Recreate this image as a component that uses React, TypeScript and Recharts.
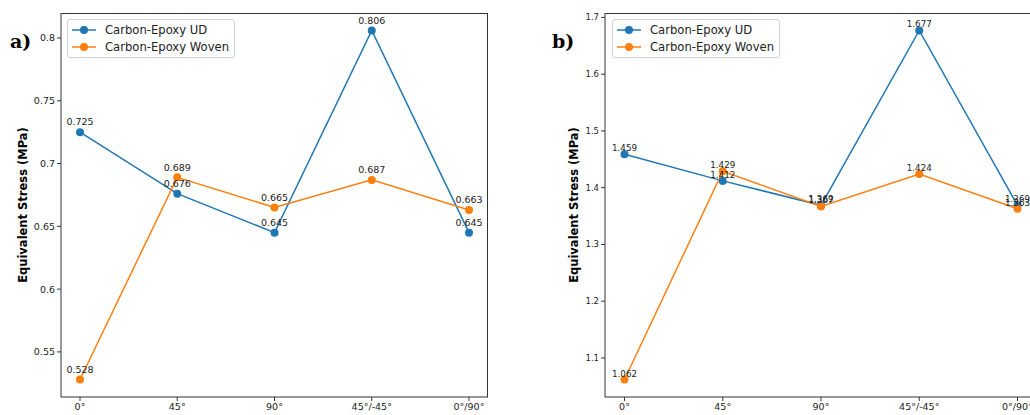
import { Line, LineChart, LabelList, XAxis, YAxis } from "recharts"

const angles = ["0°", "45°", "90°", "45°/-45°", "0°/90°"]

const udA = [0.725, 0.676, 0.645, 0.806, 0.645]
const wovenA = [0.528, 0.689, 0.665, 0.687, 0.663]
const ticksA = [0.55, 0.6, 0.65, 0.7, 0.75, 0.8]

const udB = [1.459, 1.412, 1.369, 1.677, 1.369]
const wovenB = [1.062, 1.429, 1.367, 1.424, 1.363]
const ticksB = [1.1, 1.2, 1.3, 1.4, 1.5, 1.6, 1.7]

const BLUE = "#1f77b4"
const ORANGE = "#ff7f0e"
const AXIS = "#333"

type PanelProps = {
  ud: number[]
  woven: number[]
  ticks: number[]
  domain: [number, number]
  left: number
  marginLeft: number
  marginRight: number
  pad: number
  tickFont: number
  labelFont: number
  labelGap: number
  yLabelX: number
}

function Panel(p: PanelProps) {
  const data = angles.map((name, i) => ({ name, ud: p.ud[i], woven: p.woven[i] }))
  const plotLeft = p.marginLeft + 40
  const plotWidth = 500 - plotLeft - p.marginRight

  const valueLabel = (props: any) => (
    <text
      x={props.x}
      y={props.y - p.labelGap + p.labelFont * 0.35}
      textAnchor="middle"
      fontSize={p.labelFont}
      fill="#222"
    >
      {props.value}
    </text>
  )

  return (
    <div style={{ position: "absolute", left: p.left, top: 0, width: 500, height: 415 }}>
      <LineChart
        width={500}
        height={415}
        data={data}
        margin={{ top: 13, right: p.marginRight, bottom: 0, left: p.marginLeft }}
      >
        <XAxis
          dataKey="name"
          interval={0}
          height={18}
          padding={{ left: p.pad, right: p.pad }}
          tickSize={4}
          tick={{ fontSize: 9.5, fill: "#222" }}
          axisLine={{ stroke: AXIS }}
          tickLine={{ stroke: AXIS }}
        />
        <YAxis
          type="number"
          domain={p.domain}
          allowDataOverflow
          ticks={p.ticks}
          width={40}
          tickSize={4}
          tick={{ fontSize: p.tickFont, fill: "#222" }}
          axisLine={{ stroke: AXIS }}
          tickLine={{ stroke: AXIS }}
          label={{
            content: (lp: any) => {
              const vb = lp.viewBox
              const cy = vb.y + vb.height / 2
              const x = p.yLabelX + 9
              return (
                <text
                  x={x}
                  y={cy}
                  transform={`rotate(-90 ${x} ${cy})`}
                  textAnchor="middle"
                  fontSize={11.5}
                  fontWeight="bold"
                  fill="#000"
                >
                  Equivalent Stress (MPa)
                </text>
              )
            },
          }}
        />
        <Line
          type="linear"
          dataKey="ud"
          stroke={BLUE}
          strokeWidth={1.5}
          dot={{ r: 4, fill: BLUE, stroke: BLUE, strokeWidth: 0 }}
          activeDot={false}
          isAnimationActive={false}
        >
          <LabelList dataKey="ud" content={valueLabel} />
        </Line>
        <Line
          type="linear"
          dataKey="woven"
          stroke={ORANGE}
          strokeWidth={1.5}
          dot={{ r: 4, fill: ORANGE, stroke: ORANGE, strokeWidth: 0 }}
          activeDot={false}
          isAnimationActive={false}
        >
          <LabelList dataKey="woven" content={valueLabel} />
        </Line>
      </LineChart>
      {/* top and right spines */}
      <div
        style={{
          position: "absolute",
          left: plotLeft,
          top: 12.5,
          width: plotWidth,
          height: 384,
          boxSizing: "border-box",
          borderTop: `1px solid ${AXIS}`,
          borderRight: `1px solid ${AXIS}`,
          pointerEvents: "none",
        }}
      />
    </div>
  )
}

function LegendBox({ left }: { left: number }) {
  const rows = [
    { name: "Carbon-Epoxy UD", color: BLUE },
    { name: "Carbon-Epoxy Woven", color: ORANGE },
  ]
  return (
    <div
      style={{
        position: "absolute",
        left,
        top: 19,
        width: 166,
        height: 37,
        border: "1px solid #d0d0d0",
        borderRadius: 3,
        background: "rgba(255,255,255,0.8)",
      }}
    >
      {rows.map((r, i) => (
        <div
          key={r.name}
          style={{
            position: "absolute",
            left: 4,
            top: 3 + i * 17,
            height: 14,
            display: "flex",
            alignItems: "center",
            fontSize: 11.6,
            color: "#222",
            whiteSpace: "nowrap",
          }}
        >
          <svg width={24} height={10} style={{ marginRight: 9 }}>
            <line x1={0} y1={5} x2={24} y2={5} stroke={r.color} strokeWidth={1.5} />
            <circle cx={12} cy={5} r={4} fill={r.color} />
          </svg>
          {r.name}
        </div>
      ))}
    </div>
  )
}

const panelLetter = {
  position: "absolute" as const,
  top: 30,
  fontFamily: "'DejaVu Serif', serif",
  fontWeight: "bold" as const,
  fontSize: 19,
  color: "#000",
}

export default function App() {
  return (
    <div
      style={{
        position: "absolute",
        left: 0,
        top: 0,
        width: 1030,
        height: 415,
        overflow: "hidden",
        background: "#fff",
        fontFamily: "'DejaVu Sans', sans-serif",
      }}
    >
      <Panel
        ud={udA}
        woven={wovenA}
        ticks={ticksA}
        domain={[0.5141, 0.8199]}
        left={0}
        marginLeft={21}
        marginRight={12}
        pad={19}
        tickFont={9.5}
        labelFont={9.5}
        labelGap={10}
        yLabelX={18}
      />
      <Panel
        ud={udB}
        woven={wovenB}
        ticks={ticksB}
        domain={[1.03125, 1.70775]}
        left={550}
        marginLeft={15}
        marginRight={13}
        pad={19.5}
        tickFont={8.5}
        labelFont={8.7}
        labelGap={6}
        yLabelX={19}
      />
      <LegendBox left={67} />
      <LegendBox left={612} />
      <div style={{ ...panelLetter, left: 10 }}>a)</div>
      <div style={{ ...panelLetter, left: 552 }}>b)</div>
    </div>
  )
}
